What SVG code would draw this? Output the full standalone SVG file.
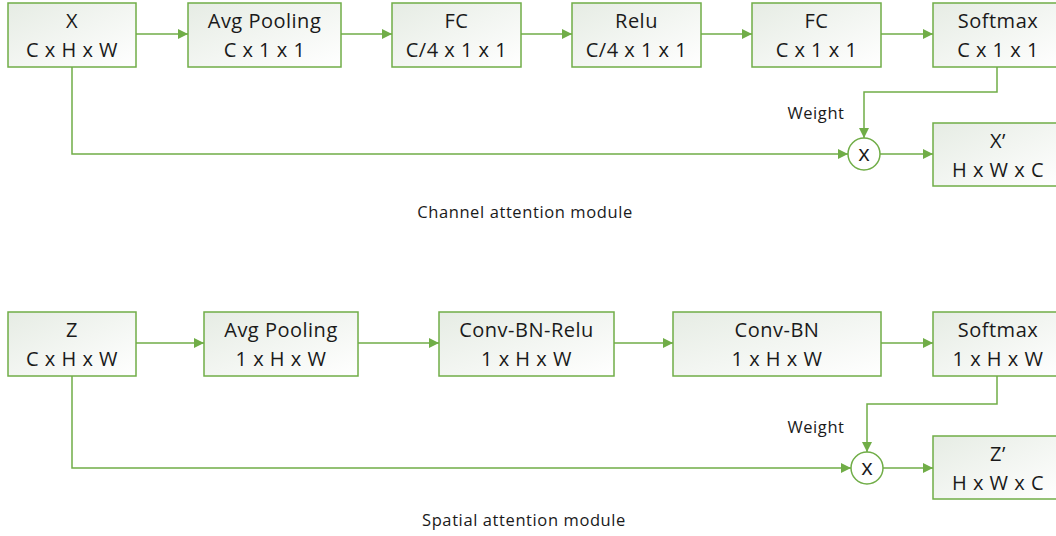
<svg xmlns="http://www.w3.org/2000/svg" width="1056" height="536" viewBox="0 0 1056 536">
  <style>
    .box { stroke: #70ad47; stroke-width: 1.5; fill: url(#boxFill); }
    .lbl { font-family: "Open Sans", "Liberation Sans", sans-serif; font-size: 20px; letter-spacing: 0.5px; fill: #1a1a1a; text-anchor: middle; }
    .op { font-family: "Open Sans", "Liberation Sans", sans-serif; font-size: 22px; fill: #1a1a1a; text-anchor: middle; }
    .small { font-family: "Open Sans", "Liberation Sans", sans-serif; font-size: 16.5px; letter-spacing: 0.6px; fill: #1a1a1a; text-anchor: middle; }
    .arrow { stroke: #70ad47; stroke-width: 1.5; fill: none; marker-end: url(#head); }
    .mul { stroke: #70ad47; stroke-width: 1.5; fill: #ffffff; }
  </style>
  <defs>
    <linearGradient id="boxFill" x1="0" y1="0" x2="1" y2="1">
      <stop offset="0" stop-color="#e6ece4"/>
      <stop offset="1" stop-color="#ffffff"/>
    </linearGradient>
    <marker id="head" viewBox="0 0 10 10" refX="10" refY="5" markerWidth="10" markerHeight="10" markerUnits="userSpaceOnUse" orient="auto">
      <path d="M0,0 L10,5 L0,10 z" fill="#70ad47"/>
    </marker>
  </defs>

  <!-- Channel attention module -->
  <g id="c-x">
    <rect class="box" x="8" y="3" width="128" height="64"/>
    <text class="lbl" x="72" y="28">X</text>
    <text class="lbl" x="72" y="57">C x H x W</text>
  </g>
  <g id="c-avgpool">
    <rect class="box" x="188" y="3" width="153" height="64"/>
    <text class="lbl" x="264.5" y="28">Avg Pooling</text>
    <text class="lbl" x="264.5" y="57">C x 1 x 1</text>
  </g>
  <g id="c-fc1">
    <rect class="box" x="392" y="3" width="129" height="64"/>
    <text class="lbl" x="456.5" y="28">FC</text>
    <text class="lbl" x="456.5" y="57">C/4 x 1 x 1</text>
  </g>
  <g id="c-relu">
    <rect class="box" x="572" y="3" width="129" height="64"/>
    <text class="lbl" x="636.5" y="28">Relu</text>
    <text class="lbl" x="636.5" y="57">C/4 x 1 x 1</text>
  </g>
  <g id="c-fc2">
    <rect class="box" x="752" y="3" width="129" height="64"/>
    <text class="lbl" x="816.5" y="28">FC</text>
    <text class="lbl" x="816.5" y="57">C x 1 x 1</text>
  </g>
  <g id="c-softmax">
    <rect class="box" x="933" y="3" width="130" height="64"/>
    <text class="lbl" x="998" y="28">Softmax</text>
    <text class="lbl" x="998" y="57">C x 1 x 1</text>
  </g>
  <g id="c-mul">
    <circle class="mul" cx="864" cy="154" r="16"/>
    <text class="op" x="864" y="161">x</text>
  </g>
  <g id="c-out">
    <rect class="box" x="933" y="123" width="130" height="63"/>
    <text class="lbl" x="998" y="148">X’</text>
    <text class="lbl" x="998" y="177">H x W x C</text>
  </g>
  <text class="small" x="816" y="119">Weight</text>
  <text class="small" x="525" y="218">Channel attention module</text>

  <!-- Spatial attention module -->
  <g id="s-z">
    <rect class="box" x="8" y="312" width="128" height="64"/>
    <text class="lbl" x="72" y="337">Z</text>
    <text class="lbl" x="72" y="366">C x H x W</text>
  </g>
  <g id="s-avgpool">
    <rect class="box" x="204" y="312" width="154" height="64"/>
    <text class="lbl" x="281" y="337">Avg Pooling</text>
    <text class="lbl" x="281" y="366">1 x H x W</text>
  </g>
  <g id="s-convbnrelu">
    <rect class="box" x="439" y="312" width="175" height="64"/>
    <text class="lbl" x="526.5" y="337">Conv-BN-Relu</text>
    <text class="lbl" x="526.5" y="366">1 x H x W</text>
  </g>
  <g id="s-convbn">
    <rect class="box" x="673" y="312" width="208" height="64"/>
    <text class="lbl" x="777" y="337">Conv-BN</text>
    <text class="lbl" x="777" y="366">1 x H x W</text>
  </g>
  <g id="s-softmax">
    <rect class="box" x="933" y="312" width="130" height="64"/>
    <text class="lbl" x="998" y="337">Softmax</text>
    <text class="lbl" x="998" y="366">1 x H x W</text>
  </g>
  <g id="s-mul">
    <circle class="mul" cx="867" cy="468" r="16"/>
    <text class="op" x="867" y="475">x</text>
  </g>
  <g id="s-out">
    <rect class="box" x="933" y="436" width="130" height="63"/>
    <text class="lbl" x="998" y="461">Z’</text>
    <text class="lbl" x="998" y="490">H x W x C</text>
  </g>
  <text class="small" x="816" y="433">Weight</text>
  <text class="small" x="524" y="526">Spatial attention module</text>

  <!-- Connectors -->
  <g id="connectors">
    <line class="arrow" x1="136" y1="34" x2="188" y2="34"/>
    <line class="arrow" x1="341" y1="34" x2="392" y2="34"/>
    <line class="arrow" x1="521" y1="34" x2="572" y2="34"/>
    <line class="arrow" x1="701" y1="34" x2="752" y2="34"/>
    <line class="arrow" x1="881" y1="34" x2="933" y2="34"/>
    <polyline class="arrow" points="997,67 997,92 864,92 864,138"/>
    <polyline class="arrow" points="72,67 72,154 848,154"/>
    <line class="arrow" x1="880" y1="154" x2="933" y2="154"/>

    <line class="arrow" x1="136" y1="343" x2="204" y2="343"/>
    <line class="arrow" x1="358" y1="343" x2="439" y2="343"/>
    <line class="arrow" x1="614" y1="343" x2="673" y2="343"/>
    <line class="arrow" x1="881" y1="343" x2="933" y2="343"/>
    <polyline class="arrow" points="997,376 997,404 867,404 867,452"/>
    <polyline class="arrow" points="72,376 72,468 851,468"/>
    <line class="arrow" x1="883" y1="468" x2="933" y2="468"/>
  </g>
</svg>
